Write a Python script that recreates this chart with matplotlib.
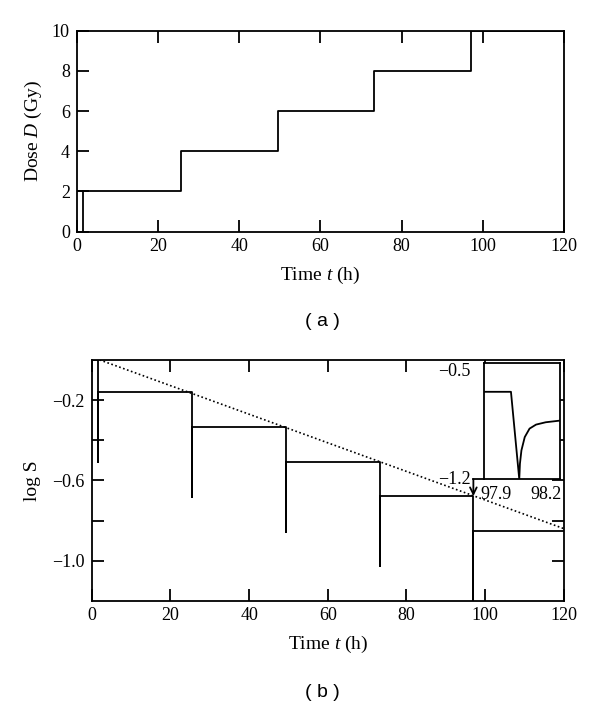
import numpy as np
import matplotlib
matplotlib.use("Agg")
import matplotlib.pyplot as plt

plt.rcParams['font.family'] = ['Liberation Serif', 'DejaVu Serif']
plt.rcParams['mathtext.fontset'] = 'custom'
plt.rcParams['mathtext.rm'] = 'Liberation Serif'
plt.rcParams['mathtext.it'] = 'Liberation Serif:italic'

# ---- data ----
# panel (a): dose steps
dose_times = [1.6, 25.6, 49.5, 73.3, 97.0]
dose_levels = [0, 2, 4, 6, 8, 10]
dose_ticks = [0, 2, 4, 6, 8, 10]

# panel (b): log survival
plateaus = [0.0, -0.160, -0.334, -0.506, -0.678, -0.850]
spike_mins = [-0.51, -0.684, -0.855, -1.025, -1.195]
trend_t = [2.0, 120.0]
trend_logS = [0.0, -0.84]
logS_ticks = [-1.0, -0.8, -0.6, -0.4, -0.2]
logS_labels = ['\u22121.0', '', '\u22120.6', '', '\u22120.2']
time_ticks = [0, 20, 40, 60, 80, 100, 120]

# inset: zoom on the last fraction
inset_t = [97.83, 97.99, 98.04, 98.044, 98.053, 98.073, 98.102, 98.141, 98.199, 98.285]
inset_logS = [-0.675, -0.675, -1.2, -1.107, -1.027, -0.947, -0.896, -0.872, -0.858, -0.848]
inset_xticks = [97.9, 98.2]
inset_yticks = [-1.2, -0.5]
inset_ylabels = ['\u22121.2', '\u22120.5']

t_end = 120
LW = 1.3

fig = plt.figure(figsize=(6.0, 7.07), dpi=100)

tick_kw = dict(direction='in', length=8.5, width=LW, labelsize=13)

# ---------------- panel (a) ----------------
ax1 = fig.add_axes([0.128, 0.6723, 0.812, 0.2843])
ta = [0]
da = [dose_levels[0]]
for i, t in enumerate(dose_times):
    ta += [t, t]
    da += [dose_levels[i], dose_levels[i + 1]]
ta.append(t_end)
da.append(dose_levels[-1])
# short piece at the start along D = 2, as drawn in the source
ax1.plot([0, dose_times[0]], [dose_levels[1], dose_levels[1]], color='black', lw=LW)
ax1.plot(ta, da, color='black', lw=LW)
ax1.set_xlim(0, t_end)
ax1.set_ylim(0, 10)
ax1.set_xticks(time_ticks)
ax1.set_yticks(dose_ticks)
ax1.tick_params(axis='x', top=True, pad=4.5, **tick_kw)
ax1.tick_params(axis='y', right=False, pad=5, **tick_kw)
ax1.set_xlabel('Time $t$ (h)', fontsize=14, labelpad=7)
ax1.set_ylabel('Dose $D$ (Gy)', fontsize=14, labelpad=6)
for s in ax1.spines.values():
    s.set_linewidth(LW)

# ---------------- panel (b) ----------------
ax2 = fig.add_axes([0.1528, 0.150, 0.787, 0.341])
tb = [0]
sb = [plateaus[0]]
for i, t in enumerate(dose_times):
    tb += [t, t, t]
    sb += [plateaus[i], spike_mins[i], plateaus[i + 1]]
tb.append(t_end)
sb.append(plateaus[-1])
ax2.plot(tb, sb, color='black', lw=LW)
ax2.plot(trend_t, trend_logS, color='black', lw=1.2, linestyle=(0, (1, 1.5)))
ax2.set_xlim(0, t_end)
ax2.set_ylim(-1.2, 0)
ax2.set_xticks(time_ticks)
ax2.set_yticks(logS_ticks)
ax2.set_yticklabels(logS_labels)
ax2.tick_params(axis='x', top=True, pad=4.5, **tick_kw)
ax2.tick_params(axis='y', right=True, pad=5, **tick_kw)
ax2.set_xlabel('Time $t$ (h)', fontsize=14, labelpad=7)
ax2.set_ylabel('log S', fontsize=14, labelpad=8)
for s in ax2.spines.values():
    s.set_linewidth(LW)

# inset
ins_x0, ins_y0, ins_w, ins_h = 99.8, -0.594, 19.2, 0.58
axi = ax2.inset_axes([ins_x0, ins_y0, ins_w, ins_h], transform=ax2.transData)
axi.plot(inset_t, inset_logS, color='black', lw=LW)
axi.set_xlim(inset_t[0], inset_t[-1])
axi.set_ylim(inset_yticks[0], inset_yticks[1])
axi.set_xticks(inset_xticks)
axi.set_yticks(inset_yticks)
axi.set_yticklabels(inset_ylabels)
axi.tick_params(axis='x', length=0, labelsize=13, pad=5)
axi.tick_params(axis='y', length=0, labelsize=13, pad=10)
for lbl, va in zip(axi.get_yticklabels(), ['center', 'top']):
    lbl.set_verticalalignment(va)
for s in axi.spines.values():
    s.set_linewidth(LW)

# connector from inset corner down to the last plateau
t_last = dose_times[-1]
ax2.plot([ins_x0, t_last], [ins_y0, ins_y0], color='black', lw=LW)
ax2.annotate('', xy=(t_last, plateaus[-2]), xytext=(t_last, ins_y0),
             arrowprops=dict(arrowstyle='->', color='black', lw=LW,
                             shrinkA=0, shrinkB=0, mutation_scale=12))

# panel letters
fig.text(0.537, 0.5446, '( a )', ha='center', va='center', fontsize=14,
         family=['Liberation Sans', 'DejaVu Sans'])
fig.text(0.537, 0.021, '( b )', ha='center', va='center', fontsize=14,
         family=['Liberation Sans', 'DejaVu Sans'])

fig.savefig('out.png', dpi=100)
